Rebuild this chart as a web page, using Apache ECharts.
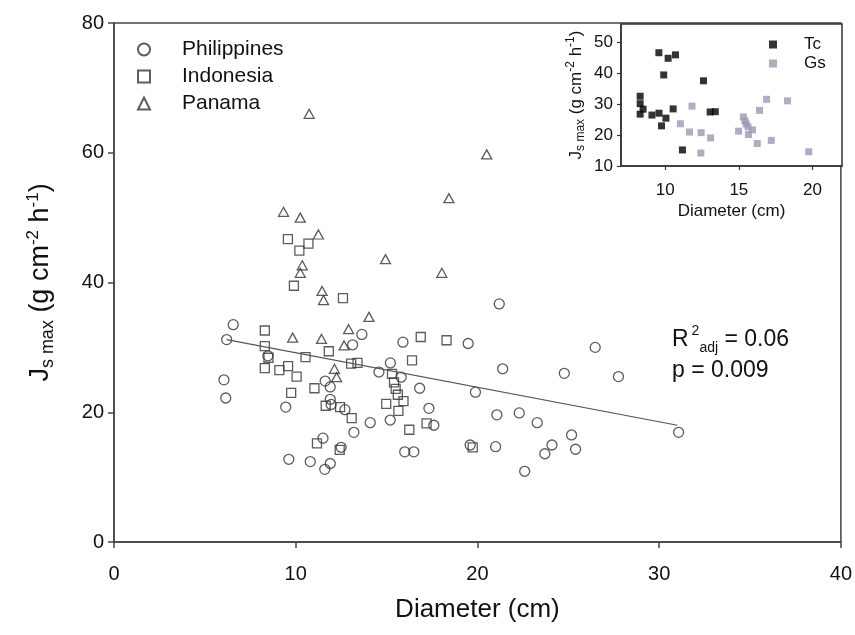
<!DOCTYPE html>
<html><head><meta charset="utf-8">
<script src="https://cdn.jsdelivr.net/npm/echarts@6/dist/echarts.min.js"></script>
<style>html,body{margin:0;padding:0;background:#fff}#c{width:855px;height:635px}</style>
</head><body><div id="c"></div>
<script>
// ---- data (diameter cm, Js max g cm-2 h-1) ----
const philippines = [
  [6.05,25.0],[6.15,22.2],[6.2,31.2],[6.56,33.5],[8.47,28.7],[9.45,20.8],[9.62,12.75],
  [10.8,12.4],[11.6,11.2],[11.9,12.1],[11.5,16.0],[12.5,14.6],[11.62,24.8],[11.9,23.9],
  [11.9,22.0],[11.95,21.2],[12.71,20.4],[13.2,16.9],[14.1,18.4],[15.2,18.8],[13.13,30.4],
  [13.64,32.0],[14.58,26.2],[15.21,27.6],[15.8,25.4],[15.9,30.8],[16.82,23.7],[17.33,20.6],
  [17.6,18.0],[16.0,13.9],[16.5,13.9],[19.49,30.6],[19.89,23.1],[19.6,14.95],[21.0,14.7],
  [21.07,19.6],[21.2,36.7],[21.39,26.7],[22.3,19.9],[22.6,10.9],[23.29,18.4],[23.71,13.6],
  [24.1,14.95],[24.78,26.0],[25.18,16.5],[25.4,14.3],[26.48,30.0],[27.76,25.5],[31.07,16.9]
];
const tc = [
  [9.57,46.7],[10.2,44.9],[10.7,46.0],[9.9,39.5],[12.6,37.6],[8.3,32.6],[8.3,30.2],[8.5,28.4],
  [8.3,26.8],[9.1,26.5],[9.58,27.1],[10.05,25.5],[10.54,28.5],[9.75,23.0],[13.05,27.5],
  [13.4,27.6],[11.17,15.2]
];
const gs = [
  [11.82,29.4],[11.03,23.7],[11.65,21.0],[12.44,20.8],[12.42,14.2],[13.08,19.1],[14.98,21.3],
  [15.3,25.9],[15.41,24.6],[15.5,23.6],[15.62,22.7],[15.93,21.7],[15.65,20.2],[16.25,17.3],
  [16.4,28.0],[16.88,31.6],[17.2,18.3],[18.3,31.1],[19.74,14.6]
];
const indonesia = tc.concat(gs);
const panama = [
  [10.74,66.0],[20.51,59.75],[18.43,53.0],[9.33,50.9],[10.25,50.0],[11.25,47.4],[14.94,43.6],
  [10.36,42.65],[10.25,41.5],[18.04,41.5],[11.45,38.7],[11.53,37.3],[14.03,34.7],[12.91,32.8],
  [9.83,31.5],[11.42,31.3],[12.66,30.3],[12.13,26.7],[12.25,25.4]
];
const fitLine = [[6.2,31.2],[31.0,18.0]];
const insetXTicks = [10,15,20];
const insetYTicks = [10,20,30,40,50];

const FONT = "'Liberation Sans', Arial, sans-serif";
const INK = '#333';
const TXT = '#111';
const hollow = {color:'rgba(0,0,0,0)', borderColor:INK, borderWidth:1.3};
const rt = (size, extra) => Object.assign({fontSize:size, color:TXT, fontFamily:FONT, fontWeight:'normal'}, extra || {});

const chart = echarts.init(document.getElementById('c'), null, {renderer:'canvas'});
chart.setOption({
  animation:false,
  backgroundColor:'#fff',
  textStyle:{fontFamily:FONT},
  title:{
    left:672, top:324, padding:0,
    text:'{a|R}{p|2}{s|adj}{a| = 0.06}\n{a|p = 0.009}',
    textStyle:{fontWeight:'normal', rich:{
      a:rt(23,{lineHeight:31}),
      p:rt(14,{lineHeight:14, verticalAlign:'top', padding:[0,0,0,3]}),
      s:rt(14,{lineHeight:14, verticalAlign:'bottom'})
    }}
  },
  legend:[{
    data:['Philippines','Indonesia','Panama'],
    orient:'vertical', left:132, top:34, itemWidth:12, itemHeight:12, itemGap:6,
    textStyle:rt(21,{lineHeight:20, padding:[0,0,0,27]}),
    selectedMode:false
  },{
    data:['Tc','Gs'],
    orient:'vertical', left:764, top:31, itemWidth:8, itemHeight:8, itemGap:2,
    textStyle:rt(17,{lineHeight:17, padding:[0,0,0,22]}),
    selectedMode:false
  }],
  grid:[
    {left:114, top:23, width:728, height:519, show:true, borderColor:'#444', borderWidth:1.5, backgroundColor:'rgba(0,0,0,0)'},
    {left:621, top:24, width:221, height:142, show:true, borderColor:'#333', borderWidth:1.5, backgroundColor:'#fff'}
  ],
  xAxis:[{
    gridIndex:0, type:'value', min:0, max:40, interval:10,
    axisLine:{show:true, lineStyle:{color:'#444', width:1.5}},
    axisTick:{show:true, inside:false, length:6, lineStyle:{color:'#444', width:1.5}},
    axisLabel:rt(20,{margin:22}),
    splitLine:{show:false},
    name:'Diameter (cm)', nameLocation:'middle', nameGap:55,
    nameTextStyle:rt(26)
  },{
    gridIndex:1, type:'value', min:7, max:22,
    axisLine:{show:true, lineStyle:{color:'#333', width:1.5}},
    axisTick:{show:true, inside:false, length:4, customValues:insetXTicks, lineStyle:{color:'#333', width:1.2}},
    axisLabel:rt(17,{margin:16, customValues:insetXTicks}),
    splitLine:{show:false},
    name:'Diameter (cm)', nameLocation:'middle', nameGap:37,
    nameTextStyle:rt(17)
  }],
  yAxis:[{
    gridIndex:0, type:'value', min:0, max:80, interval:20,
    axisLine:{show:true, lineStyle:{color:'#444', width:1.5}},
    axisTick:{show:true, inside:false, length:6, lineStyle:{color:'#444', width:1.5}},
    axisLabel:rt(20,{margin:10}),
    splitLine:{show:false},
    name:'{a|J}{s|s max}{a| (g cm}{p|-2}{a| h}{p|-1}{a|)}',
    nameLocation:'middle', nameRotate:90, nameGap:57,
    nameTextStyle:{rich:{
      a:rt(27,{lineHeight:32}),
      s:rt(18,{lineHeight:17, verticalAlign:'bottom'}),
      p:rt(17,{lineHeight:16, verticalAlign:'top'})
    }}
  },{
    gridIndex:1, type:'value', min:10, max:56,
    axisLine:{show:true, lineStyle:{color:'#333', width:1.5}},
    axisTick:{show:true, inside:false, length:4, customValues:insetYTicks, lineStyle:{color:'#333', width:1.2}},
    axisLabel:rt(17,{margin:8, customValues:insetYTicks}),
    splitLine:{show:false},
    name:'{a|J}{s|s max}{a| (g cm}{p|-2}{a| h}{p|-1}{a|)}',
    nameLocation:'middle', nameRotate:90, nameGap:34,
    nameTextStyle:{rich:{
      a:rt(17,{lineHeight:22}),
      s:rt(12,{lineHeight:12, verticalAlign:'bottom'}),
      p:rt(12,{lineHeight:12, verticalAlign:'top'})
    }}
  }],
  series:[
    {name:'Philippines', type:'scatter', xAxisIndex:0, yAxisIndex:0, data:philippines,
     symbol:'circle', symbolSize:10, itemStyle:hollow},
    {name:'Indonesia', type:'scatter', xAxisIndex:0, yAxisIndex:0, data:indonesia,
     symbol:'rect', symbolSize:9, itemStyle:hollow},
    {name:'Panama', type:'scatter', xAxisIndex:0, yAxisIndex:0, data:panama,
     symbol:'triangle', symbolSize:[10,9], itemStyle:hollow},
    {name:'fit', type:'line', xAxisIndex:0, yAxisIndex:0, data:fitLine, symbol:'none',
     lineStyle:{color:'#555', width:1.2}, silent:true},
    {name:'Tc', type:'scatter', xAxisIndex:1, yAxisIndex:1, data:tc, symbol:'rect', symbolSize:7,
     itemStyle:{color:'#000'}, z:10},
    {name:'Gs', type:'scatter', xAxisIndex:1, yAxisIndex:1, data:gs, symbol:'rect', symbolSize:7,
     itemStyle:{color:'#9a9ab4'}, z:10}
  ]
});
</script></body></html>
